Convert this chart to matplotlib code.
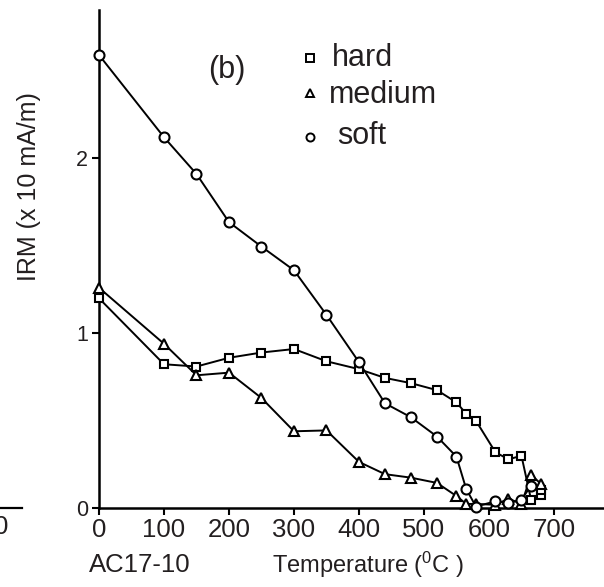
import numpy as np
import matplotlib
matplotlib.use("Agg")
import matplotlib.pyplot as plt
from matplotlib.lines import Line2D

plt.rcParams['font.family'] = ['Liberation Sans', 'DejaVu Sans']
plt.rcParams['mathtext.fontset'] = 'custom'
plt.rcParams['mathtext.rm'] = 'Liberation Sans'

# Thermal demagnetisation of IRM components (sample AC17-10)
temp_hard = [0, 100, 150, 200, 250, 300, 350, 400, 440, 480, 520, 550, 565, 580, 610, 630, 650, 665, 680, 680]
irm_hard = [1.20, 0.823, 0.81, 0.86, 0.89, 0.91, 0.84, 0.795, 0.745, 0.715, 0.675, 0.605, 0.54, 0.50, 0.32, 0.28, 0.30, 0.045, 0.075, 0.105]

temp_medium = [0, 100, 150, 200, 250, 300, 350, 400, 440, 480, 520, 550, 565, 580, 610, 630, 650, 665, 680]
irm_medium = [1.26, 0.94, 0.76, 0.775, 0.63, 0.44, 0.445, 0.265, 0.195, 0.175, 0.145, 0.07, 0.025, 0.025, 0.02, 0.055, 0.025, 0.19, 0.14]

temp_soft = [0, 100, 150, 200, 250, 300, 350, 400, 440, 480, 520, 550, 565, 580, 610, 630, 650, 665]
irm_soft = [2.59, 2.12, 1.91, 1.635, 1.495, 1.36, 1.105, 0.835, 0.60, 0.52, 0.41, 0.295, 0.11, 0.01, 0.04, 0.03, 0.05, 0.13]

x_ticks = [0, 100, 200, 300, 400, 500, 600, 700]
y_ticks = [0, 1, 2]

txt = '#231f20'
W, H = 604, 587
fig = plt.figure(figsize=(W / 100, H / 100), dpi=100)
ax = fig.add_axes([99 / W, 1 - 508.3 / H, (604 - 99) / W, (508.3 - 10) / H])

style = dict(color='black', lw=1.4, mfc='white', mec='black', mew=1.5, clip_on=False)
ax.plot(temp_hard, irm_hard, marker='s', ms=5.8, zorder=3, **style)
ax.plot(temp_medium, irm_medium, marker='^', ms=7.6, zorder=3, **style)
ax.plot(temp_soft, irm_soft, marker='o', ms=7.2, zorder=3, **style)

ax.set_xlim(0, 777)
ax.set_ylim(0, 2.847)
ax.set_xticks(x_ticks)
ax.set_yticks(y_ticks)
ax.tick_params(axis='x', direction='out', length=5, width=1.5, labelsize=18.5, pad=2, labelcolor=txt)
ax.tick_params(axis='y', direction='out', length=5, width=1.5, labelsize=15.5, pad=3, labelcolor=txt)
for s in ['top', 'right']:
    ax.spines[s].set_visible(False)
for s in ['left', 'bottom']:
    ax.spines[s].set_linewidth(1.8)

# axis titles
fig.text(29 / W, 1 - 187 / H, 'IRM (x 10 mA/m)', rotation=90, fontsize=18, color=txt,
         ha='center', va='center')
fig.text(368 / W, 1 - 565 / H, 'Temperature ($\\mathregular{^0}$C )', fontsize=17, color=txt,
         ha='center', va='center')
fig.text(140 / W, 1 - 565 / H, 'AC17-10', fontsize=18.5, color=txt, ha='center', va='center')
fig.text(227 / W, 1 - 70 / H, '(b)', fontsize=22, color=txt, ha='center', va='center')

# hand made legend
leg_marks = ['s', '^', 'o']
leg_names = ['hard', 'medium', 'soft']
leg_y = [58, 93, 137]
leg_base = [66.5, 103, 144]
leg_x = [332, 329, 337]
for m, name, my, by, tx in zip(leg_marks, leg_names, leg_y, leg_base, leg_x):
    fig.add_artist(Line2D([310 / W], [1 - my / H], marker=m, ms=5.2 if m == 's' else 5.8,
                          mfc='white', mec='black', mew=1.4, ls='none'))
    fig.text(tx / W, 1 - by / H, name, fontsize=22, color=txt, ha='left', va='baseline')

# edge of neighbouring panel (a), cut off at the left border as in the source figure
fig.add_artist(Line2D([0, 22 / W], [1 - 507.5 / H, 1 - 507.5 / H], color='black', lw=1.6))
fig.text(1 / W, 1 - 527 / H, '0', fontsize=18.5, color=txt, ha='center', va='center')

fig.savefig('out.png', dpi=100)
